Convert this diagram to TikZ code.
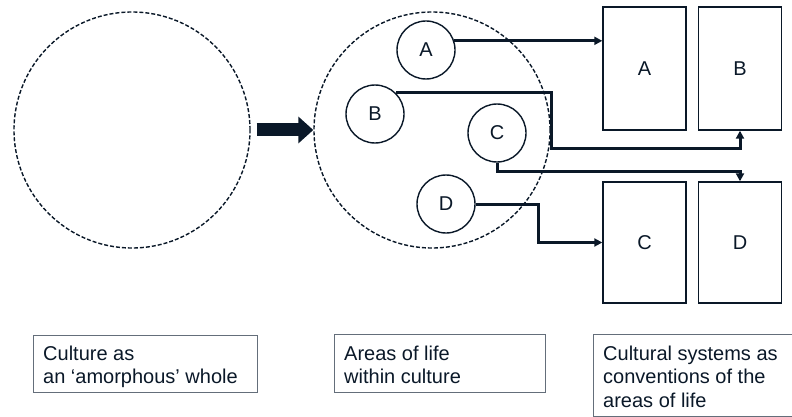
\documentclass[tikz,border=0pt]{standalone}
\usepackage{fontspec}
\setmainfont{Liberation Sans}
\usetikzlibrary{arrows.meta}
\definecolor{inkblue}{RGB}{10,24,40}
\definecolor{framegrey}{RGB}{100,110,122}
\tikzset{whole/.style={circle, draw=inkblue, line width=1.4pt,
         dash pattern=on 4pt off 2pt, minimum size=236pt, inner sep=0pt},
         area/.style={circle, draw=inkblue, line width=1.4pt,
         minimum size=58pt, inner sep=0pt, text=inkblue},
         system/.style={rectangle, draw=inkblue, line width=1.4pt,
         minimum width=83pt, inner sep=0pt, text=inkblue},
         link/.style={draw=inkblue, line width=3pt,
         -{Triangle[length=8pt,width=8pt]}},
         capbox/.style={rectangle, draw=framegrey, line width=1.1pt,
         inner sep=0pt, anchor=north west},
         captext/.style={align=left, inner sep=0pt, text=inkblue,
         anchor=north west}}

\begin{document}
\begin{tikzpicture}[x=1pt,y=-1pt,
  every node/.style={font=\fontsize{20}{23.5}\selectfont}]
\useasboundingbox (0,0) rectangle (792,417);

\node [whole] (culture) at (132,130) {};
\node [whole] (areas) at (432,130) {};
\draw [inkblue, line width=13pt, -{Triangle[length=15pt,width=26pt]}]
  ([xshift=6pt]culture.east) -- (areas.west);

\node [area] (cA) at (426,50) {A};
\node [area] (cB) at (375,114) {B};
\node [area] (cC) at (497,133) {C};
\node [area] (cD) at (446,204) {D};

\node [system, minimum height=123pt] (sA) at (644.5,68.5) {A};
\node [system, minimum height=123pt] (sB) at (740,68.5) {B};
\node [system, minimum height=121pt] (sC) at (644.5,242.5) {C};
\node [system, minimum height=121pt] (sD) at (740,242.5) {D};

\draw [link] (cA.18) -- (cA.18 -| sA.west);
\draw [link] (cB.45) -- ++(155,0) -- ++(0,56) -| (sB.south);
\draw [link] (cC.south) -- ++(0,9) -| (sD.north);
\draw [link] (cD.east) -- ++(63,0) |- (sC.west);

\node [capbox, minimum width=224pt, minimum height=57pt] (capCulture) at (33,335) {};
\node [captext] at ([shift={(10,10.5)}]capCulture.north west) {Culture as\\an ‘amorphous’ whole};
\node [capbox, minimum width=211pt, minimum height=58pt] (capAreas) at (334,334) {};
\node [captext] at ([shift={(10,11.5)}]capAreas.north west) {Areas of life\\within culture};
\node [capbox, minimum width=202pt, minimum height=82pt] (capSystems) at (593,334) {};
\node [captext] at ([shift={(10,11.5)}]capSystems.north west) {Cultural systems as\\conventions of the\\areas of life};
\end{tikzpicture}
\end{document}
